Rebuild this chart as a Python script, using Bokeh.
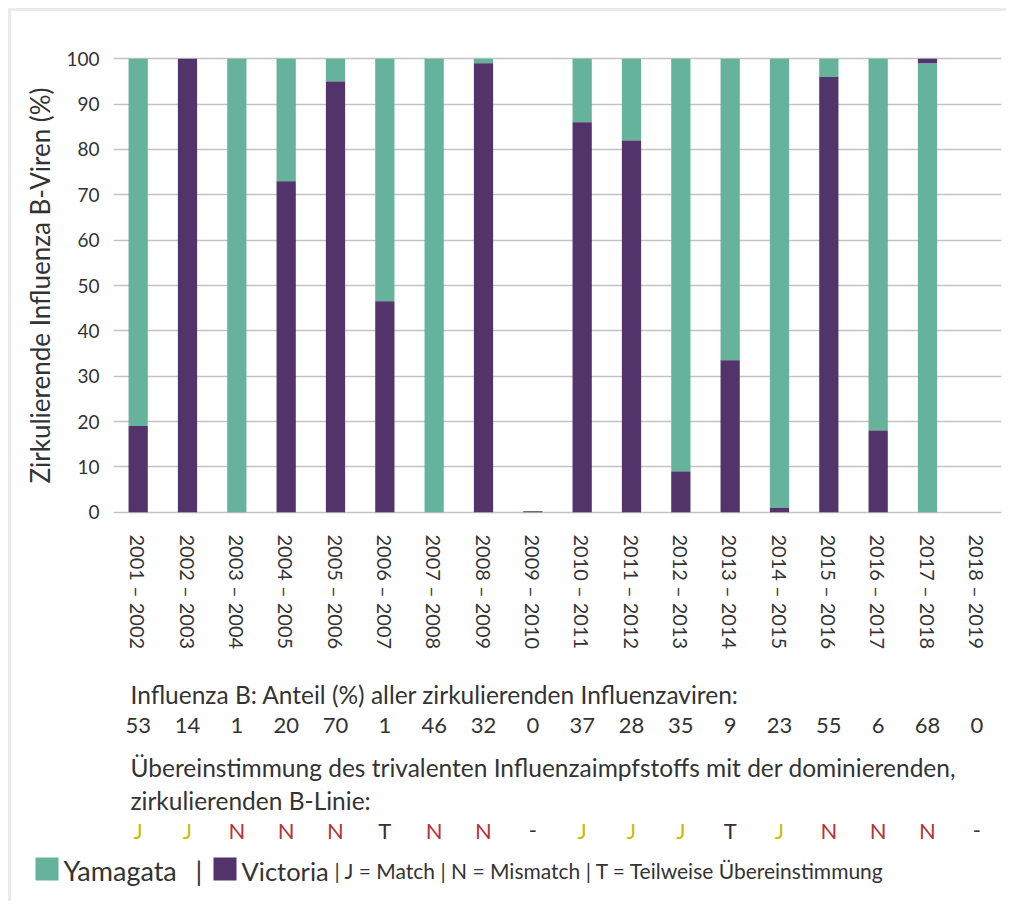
from bokeh.plotting import figure
from bokeh.models import Range1d, FactorRange, FixedTicker, ColumnDataSource
from bokeh.layouts import column
from bokeh.core.properties import value
from bokeh.embed import file_html
from bokeh.resources import INLINE

# ---------------- data ----------------
seasons = ["2001 – 2002", "2002 – 2003", "2003 – 2004", "2004 – 2005", "2005 – 2006",
           "2006 – 2007", "2007 – 2008", "2008 – 2009", "2009 – 2010", "2010 – 2011",
           "2011 – 2012", "2012 – 2013", "2013 – 2014", "2014 – 2015", "2015 – 2016",
           "2016 – 2017", "2017 – 2018", "2018 – 2019"]
victoria = [19, 100, 0, 73, 95, 46.5, 0, 99, 0.2, 86, 82, 9, 33.5, 1, 96, 18, 1, 0]
yamagata = [81, 0, 100, 27, 5, 53.5, 100, 1, 0, 14, 18, 91, 66.5, 99, 4, 82, 99, 0]
victoria_on_top = [False] * 16 + [True, False]
share_b = ["53", "14", "1", "20", "70", "1", "46", "32", "0", "37", "28", "35", "9",
           "23", "55", "6", "68", "0"]
match = ["J", "J", "N", "N", "N", "T", "N", "N", "-", "J", "J", "J", "T", "J",
         "N", "N", "N", "-"]
yticks = list(range(0, 101, 10))

y_title = "Zirkulierende Influenza B-Viren (%)"
row1 = "Influenza B: Anteil (%) aller zirkulierenden Influenzaviren:"
row3 = "Übereinstimmung des trivalenten Influenzaimpfstoffs mit der dominierenden,"
row4 = "zirkulierenden B-Linie:"
leg_yam = "Yamagata"
leg_vic = "Victoria"
leg_rest = "| J = Match | N = Mismatch | T = Teilweise Übereinstimmung"

# ---------------- style / layout ----------------
FONT = "Lato"
TXT = "#333333"
GREEN = "#64b39a"
PURPLE = "#52346b"
GRID = "#c3c3c3"
MATCH_COLORS = {"J": "#c6c000", "N": "#b5343b", "T": TXT, "-": TXT}

OFF = 11                      # 8px margin + 3px border
W = 995
H1, H2 = 660, 230
FRAME_L, FRAME_R = 102, 990   # local px of the chart frame
FRAME_T, FRAME_H = 45, 458
N = len(seasons)
UNIT = (FRAME_R - FRAME_L) / N


def dx(page_x):
    """page pixel -> synthetic categorical x (same mapping as the chart)"""
    return (page_x - OFF - FRAME_L) / UNIT


def dy(page_y):
    """page pixel -> y of the lower text panel"""
    return page_y - OFF - H1


# stacking (one season has Victoria stacked above Yamagata)
vic_bottom = [y if t else 0 for y, t in zip(yamagata, victoria_on_top)]
vic_top = [b + v for b, v in zip(vic_bottom, victoria)]
yam_bottom = [0 if t else v for v, t in zip(victoria, victoria_on_top)]
yam_top = [b + y for b, y in zip(yam_bottom, yamagata)]

src = ColumnDataSource(dict(season=seasons, vb=vic_bottom, vt=vic_top,
                            yb=yam_bottom, yt=yam_top))

p = figure(x_range=FactorRange(*seasons), y_range=Range1d(-0.5, 100.5),
           width=W, height=H1, output_backend="svg", toolbar_location=None,
           min_border_left=FRAME_L, min_border_right=W - FRAME_R,
           min_border_top=FRAME_T, min_border_bottom=H1 - FRAME_T - FRAME_H)

p.vbar(x="season", bottom="yb", top="yt", width=0.39, source=src,
       fill_color=GREEN, line_color=None)
p.vbar(x="season", bottom="vb", top="vt", width=0.39, source=src,
       fill_color=PURPLE, line_color=None)

p.outline_line_color = None
p.border_fill_color = None
p.background_fill_color = None
p.xgrid.grid_line_color = None
p.ygrid.ticker = FixedTicker(ticks=yticks)
p.ygrid.grid_line_color = GRID
p.ygrid.grid_line_width = 1.6

p.yaxis.ticker = FixedTicker(ticks=yticks)
for ax in (p.xaxis[0], p.yaxis[0]):
    ax.axis_line_color = None
    ax.major_tick_line_color = None
    ax.minor_tick_line_color = None
    ax.major_tick_out = 0
    ax.major_tick_in = 0
    ax.major_label_text_font = FONT
    ax.major_label_text_color = TXT
p.yaxis.major_label_text_font_size = "19px"
p.yaxis.major_label_standoff = 14
p.yaxis.axis_label = y_title
p.yaxis.axis_label_text_font = FONT
p.yaxis.axis_label_text_font_size = "26px"
p.yaxis.axis_label_text_font_style = "normal"
p.yaxis.axis_label_text_color = TXT
p.yaxis.axis_label_standoff = 7
p.xaxis.major_label_orientation = "vertical"
p.xaxis.major_label_text_font_size = "20px"
p.xaxis.major_label_standoff = 20

# ---------------- lower text panel ----------------
p2 = figure(x_range=Range1d(dx(OFF), dx(OFF + W)), y_range=Range1d(H2, 0),
            width=W, height=H2, output_backend="svg", toolbar_location=None,
            x_axis_location=None, y_axis_location=None, min_border=0)
p2.grid.visible = False
p2.outline_line_color = None
p2.border_fill_color = None
p2.background_fill_color = None

centers = [i + 0.5 for i in range(N)]
common = dict(text_font=value(FONT), text_baseline="alphabetic")

p2.text(x=[dx(130)] * 3, y=[dy(694), dy(767), dy(800)], text=[row1, row3, row4],
        text_color=TXT, text_font_size="24.5px", **common)
p2.text(x=centers, y=[dy(725)] * N, text=share_b, text_color=TXT,
        text_font_size="22px", text_align="center", **common)
p2.text(x=centers, y=[dy(830)] * N, text=match,
        text_color=[MATCH_COLORS[m] for m in match],
        text_font_size="22px", text_align="center", **common)

# legend row
p2.quad(left=[dx(35), dx(213)], right=[dx(58), dx(236)],
        top=[dy(857)] * 2, bottom=[dy(880)] * 2,
        fill_color=[GREEN, PURPLE], line_color=None)
p2.text(x=[dx(63), dx(195)], y=[dy(870)] * 2,
        text=[leg_yam, "|"], text_color=TXT, text_font_size="27px", **common)
p2.text(x=[dx(241)], y=[dy(870)], text=[leg_vic], text_color=TXT,
        text_font_size="25.5px", **common)
p2.text(x=[dx(334)], y=[dy(870)], text=[leg_rest], text_color=TXT,
        text_font_size="21px", **common)

layout = column(p, column(p2), styles={"margin-left": "8px", "margin-top": "8px",
                                       "border-left": "3px solid #ebebeb",
                                       "border-top": "3px solid #ebebeb",
                                       "border-right": "none",
                                       "border-bottom": "none"})

open("out.html", "w").write(file_html(layout, INLINE))
